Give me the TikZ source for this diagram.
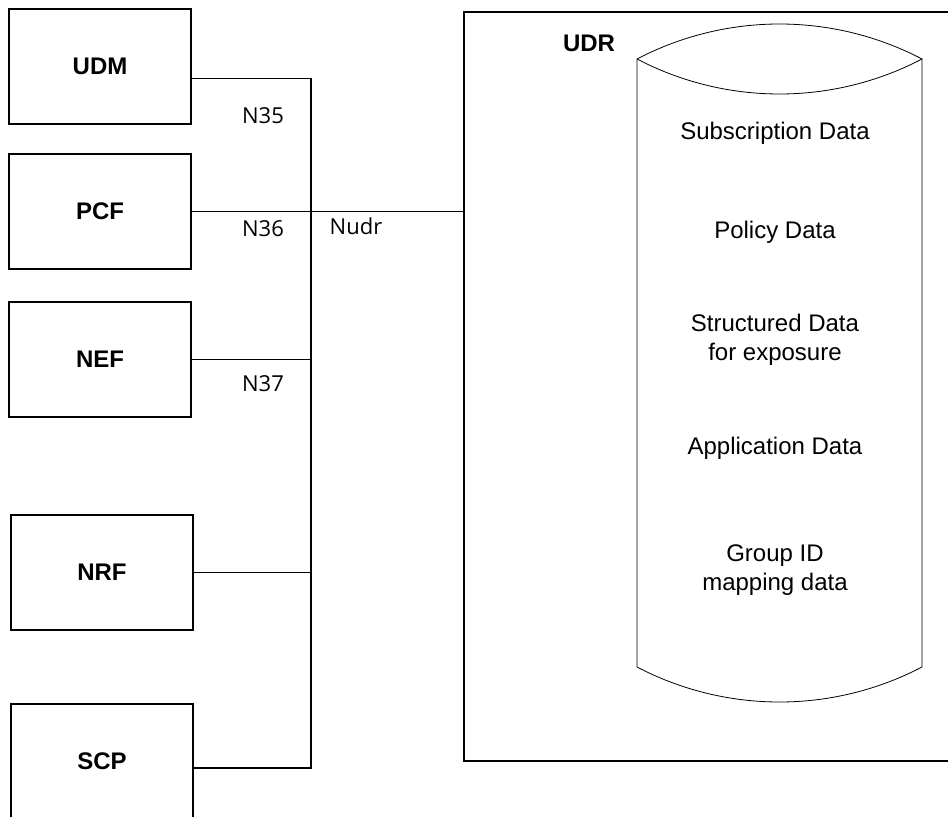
\documentclass[tikz,border=0pt]{standalone}
\usepackage{fontspec}
\setmainfont{Liberation Sans}
\newfontfamily\ifont{Open Sans}
\usetikzlibrary{positioning,calc}

\begin{document}
\begin{tikzpicture}[x=0.5pt,y=0.5pt,
    nfbox/.style={draw, line width=0.6pt, minimum width=91pt, minimum height=57.5pt,
                  font=\fontsize{12pt}{14.5pt}\selectfont\bfseries},
    iflabel/.style={font=\ifont\fontsize{11pt}{13pt}\selectfont},
    datalabel/.style={align=center, font=\fontsize{12pt}{14.5pt}\selectfont}]
    \useasboundingbox (0,0) rectangle (948,816);

    % network functions
    \node[nfbox] (UDM) at (100,749.5) {UDM};
    \node[nfbox] (PCF) at (100,604.5) {PCF};
    \node[nfbox] (NEF) at (100,456.5) {NEF};
    \node[nfbox] (NRF) at (102,243.5) {NRF};
    \node[nfbox] (SCP) at (102,54.5) {SCP};

    % UDR box
    \node[draw, line width=0.6pt, minimum width=248pt, minimum height=374.5pt] (UDR) at (712,429.5) {};
    \node[font=\fontsize{12pt}{14.5pt}\selectfont\bfseries] (UDRlabel) at (589,773) {UDR};

    % data store
    \draw[line width=0.4pt] (637,757) -- (637,149) arc[start angle=242.4, end angle=297.6, radius=307.6] -- (922,757);
    \draw[line width=0.4pt] (637,757) arc[start angle=117.6, end angle=62.4, radius=307.6]
        arc[start angle=297.6, end angle=242.4, radius=307.6];
    \node[datalabel] (subs) at (775,683) {Subscription Data};
    \node[datalabel] (policy) at (775,584) {Policy Data};
    \node[datalabel] (struct) at (775,476) {Structured Data\\for exposure};
    \node[datalabel] (appl) at (775,368) {Application Data};
    \node[datalabel] (group) at (775,246) {Group ID\\mapping data};

    % bus
    \coordinate (bustop) at (311,737.5);
    \coordinate (busbot) at (311,48);
    \draw[line width=0.6pt] (UDM.east |- bustop) -- (bustop) -- (busbot) -- (SCP.east |- busbot);
    \draw[line width=0.6pt] (PCF.east) -- (PCF.east -| UDR.west);
    \draw[line width=0.6pt] (NEF.east) -- (NEF.east -| bustop);
    \draw[line width=0.6pt] (NRF.east) -- (NRF.east -| bustop);

    % interface labels
    \node[iflabel] (n35) at (263,700) {N35};
    \node[iflabel] (n36) at (263,587) {N36};
    \node[iflabel] (n37) at (263,432) {N37};
    \node[iflabel] (nudr) at (356,590) {Nudr};
\end{tikzpicture}
\end{document}
